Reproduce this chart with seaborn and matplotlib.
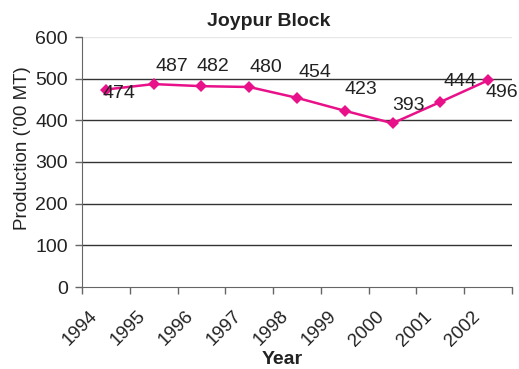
import matplotlib
matplotlib.use("Agg")
import matplotlib.pyplot as plt
import matplotlib.transforms as mtransforms
import seaborn as sns
import pandas as pd
import numpy as np

years = ["1994", "1995", "1996", "1997", "1998", "1999", "2000", "2001", "2002"]
production = [474, 487, 482, 480, 454, 423, 393, 444, 496]
# label offsets (points) relative to each marker
label_offsets = [(9.4, -3.2), (13.3, 13), (8, 14.4), (12.2, 13.7), (13, 18),
                 (11.5, 15), (11.5, 13), (14.4, 14.4), (10, -8.6)]

sns.set_style("white")
plt.rcParams["font.family"] = ["Liberation Sans", "DejaVu Sans"]

df = pd.DataFrame({"pos": np.arange(len(years)), "Production": production})

W, H = 519, 369
fig = plt.figure(figsize=(W / 100, H / 100), dpi=100)
ax = fig.add_axes([82 / W, 1 - 287 / H, 430 / W, 250 / H])

color = "#E8118A"
sns.lineplot(data=df, x="pos", y="Production", ax=ax, color=color, lw=1.8,
             marker="D", markersize=6.5, markeredgewidth=0, markerfacecolor=color)

for i, v in enumerate(production):
    dx, dy = label_offsets[i]
    ax.annotate(str(v), (i, v), xytext=(dx, dy), textcoords="offset points",
                ha="center", va="center", fontsize=14, color="#222222")

ax.set_xlim(-0.5, len(years) - 0.5)
ax.set_ylim(0, 600)
ax.set_yticks(range(0, 601, 100))
ax.tick_params(axis="y", labelsize=14, length=5, width=1, color="#666666",
               direction="out", left=True, pad=5, labelcolor="#222222")

for yv in range(100, 600, 100):
    ax.axhline(yv, color="#333333", lw=1, zorder=0)
ax.axhline(600, color="#e6e6e6", lw=1, zorder=0)

# tick marks between categories, labels centred on categories
ax.set_xticks(np.arange(-0.5, len(years), 1.0))
ax.set_xticklabels([])
ax.tick_params(axis="x", which="major", length=5, width=1, color="#666666",
               direction="out", bottom=True)
ax.set_xticks(np.arange(len(years)), minor=True)
ax.set_xticklabels(years, minor=True, rotation=45, ha="right", va="top",
                   rotation_mode="anchor", fontsize=13.5, color="#222222")
ax.tick_params(axis="x", which="minor", length=0, pad=15)
shift = mtransforms.ScaledTranslation(-12 / 72, 0, fig.dpi_scale_trans)
for lbl in ax.get_xticklabels(minor=True):
    lbl.set_transform(lbl.get_transform() + shift)

for side in ["top", "right"]:
    ax.spines[side].set_visible(False)
ax.spines["left"].set_color("#666666")
ax.spines["bottom"].set_color("#666666")

ax.set_xlabel("Year", fontsize=14, fontweight="bold", color="#222222", va="center")
ax.xaxis.set_label_coords((282 - 82) / 430, (287 - 360) / 250)
ax.set_ylabel("Production ('00 MT)", fontsize=13.5, color="#222222", va="center")
ax.yaxis.set_label_coords((23 - 82) / 430, (287 - 148) / 250)
fig.text(269 / W, 1 - 22 / H, "Joypur Block", fontsize=14, fontweight="bold",
         color="#222222", ha="center", va="center")

fig.savefig("out.png", dpi=100)
